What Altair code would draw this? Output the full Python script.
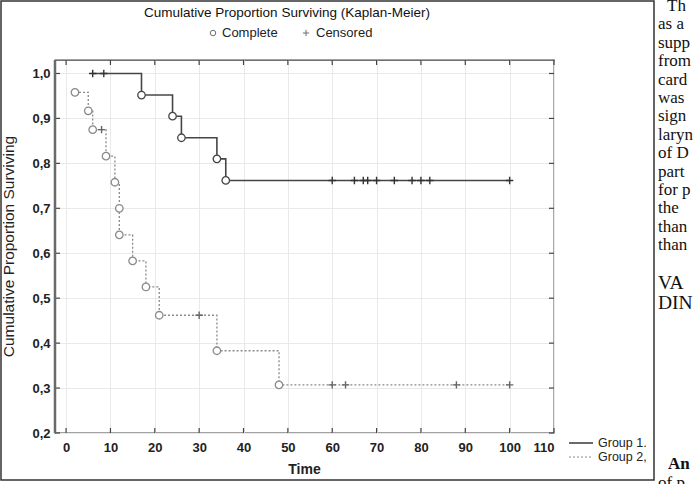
import altair as alt
import pandas as pd

# ---- Kaplan-Meier estimates -------------------------------------------------
# Group 1: step vertices (time, cumulative proportion surviving)
g1_time = [6, 17, 24, 26, 34, 36, 100]
g1_surv = [1.000, 0.952, 0.905, 0.857, 0.810, 0.762, 0.762]
# complete observations (events), group 1
g1_event_time = [17, 24, 26, 34, 36]
g1_event_surv = [0.952, 0.905, 0.857, 0.810, 0.762]
# censored observations, group 1
g1_cens_time = [6, 8.5, 60, 65, 67, 68, 70, 74, 78, 80, 82, 100]
g1_cens_surv = [1.0, 1.0, 0.762, 0.762, 0.762, 0.762, 0.762, 0.762, 0.762, 0.762, 0.762, 0.762]

# Group 2
g2_time = [2, 5, 6, 9, 11, 12, 12, 15, 18, 21, 34, 48, 100]
g2_surv = [0.958, 0.917, 0.875, 0.816, 0.758, 0.700, 0.641, 0.583, 0.525, 0.462, 0.383, 0.307, 0.307]
g2_event_time = [2, 5, 6, 9, 11, 12, 12, 15, 18, 21, 34, 48]
g2_event_surv = [0.958, 0.917, 0.875, 0.816, 0.758, 0.700, 0.641, 0.583, 0.525, 0.462, 0.383, 0.307]
g2_cens_time = [8, 30, 60, 63, 88, 100]
g2_cens_surv = [0.875, 0.462, 0.307, 0.307, 0.307, 0.307]

x_ticks = [0, 10, 20, 30, 40, 50, 60, 70, 80, 90, 100, 110]
y_ticks = [0.2, 0.3, 0.4, 0.5, 0.6, 0.7, 0.8, 0.9, 1.0]

title_text = "Cumulative Proportion Surviving (Kaplan-Meier)"
y_title = "Cumulative Proportion Surviving"
x_title = "Time"
group_labels = ["Group 1.", "Group 2,"]

# neighbouring column of the printed page
page_lines = ["Th", "as  a", "supp", "from", "card", "was", "sign", "laryn",
              "of D", "part", "for p", "the", "than", "than"]
page_heading = ["VA", "DIN"]
page_after = ["An", "of p"]

# ---- layout -------------------------------------------------------------
W, H = 499, 373
PAD = {"left": 55, "top": 60, "right": 697 - 55 - W, "bottom": 484 - 60 - H}
SANS = "Liberation Sans, Arial, sans-serif"
SERIF = "Liberation Serif, Times New Roman, serif"
C1 = "#454545"
C2 = "#8a8a8a"
GRID = "#e9e9e9"

xscale = alt.Scale(domain=[-2.5, 110], nice=False, zero=False)
yscale = alt.Scale(domain=[0.2, 1.03], nice=False, zero=False)

xaxis = alt.Axis(values=x_ticks, grid=True, gridColor=GRID, ticks=False, domain=False,
                 labelFont=SANS, labelFontSize=13, labelFontWeight="bold",
                 labelColor="#222", labelPadding=8, title=None)
yaxis = alt.Axis(values=y_ticks, grid=True, gridColor=GRID, ticks=False, domain=False,
                 labelFont=SANS, labelFontSize=13, labelFontWeight="bold",
                 labelColor="#222", labelPadding=5, title=None,
                 labelExpr="replace(format(datum.value, '.1f'), '.', ',')")

X = alt.X("t:Q", scale=xscale, axis=xaxis)
Y = alt.Y("s:Q", scale=yscale, axis=yaxis)

one = pd.DataFrame({"k": [0]})


def curve_layer(times, survs, color, width, dash):
    df = pd.DataFrame({"t": times, "s": survs, "o": list(range(len(times)))})
    return alt.Chart(df).mark_line(interpolate="step-after", color=color,
                                   strokeWidth=width, strokeDash=dash).encode(
        x=X, y=Y, order="o:Q")


def event_layer(times, survs, color):
    df = pd.DataFrame({"t": times, "s": survs})
    return alt.Chart(df).mark_point(shape="circle", size=56, filled=False, fill="white",
                                    fillOpacity=1, opacity=1, stroke=color,
                                    strokeWidth=1.3).encode(x=X, y=Y)


PLUS = "M-1,0L1,0M0,-1L0,1"


def censor_layer(times, survs, color):
    df = pd.DataFrame({"t": times, "s": survs})
    return alt.Chart(df).mark_point(shape=PLUS, size=55, filled=False, opacity=1,
                                    stroke=color, strokeWidth=1.4).encode(x=X, y=Y)


def text_at(txt, x, y, size=12, weight="normal", font=SANS, align="left",
            color="#222", angle=0):
    return alt.Chart(one).mark_text(text=txt, font=font, fontSize=size,
                                    fontWeight=weight, align=align,
                                    baseline="middle", color=color,
                                    angle=angle).encode(x=alt.value(x), y=alt.value(y))


# inward tick marks on all four sides of the frame
xt = pd.DataFrame({"t": x_ticks})
yt = pd.DataFrame({"s": y_ticks})
tick_style = dict(color="#444", strokeWidth=1.2)
ticks = [
    alt.Chart(xt).mark_rule(**tick_style).encode(x=X, y=alt.value(H), y2=alt.value(H - 5)),
    alt.Chart(xt).mark_rule(**tick_style).encode(x=X, y=alt.value(0), y2=alt.value(5)),
    alt.Chart(yt).mark_rule(**tick_style).encode(y=Y, x=alt.value(0), x2=alt.value(5)),
    alt.Chart(yt).mark_rule(**tick_style).encode(y=Y, x=alt.value(W), x2=alt.value(W - 5)),
]

left_spine = alt.Chart(one).mark_rule(color="#6a6a6a", strokeWidth=2.5).encode(
    x=alt.value(0), y=alt.value(0), y2=alt.value(H))

# outer border of the figure
border = alt.Chart(one).mark_rect(fillOpacity=0, stroke="#333", strokeWidth=1.5).encode(
    x=alt.value(-54), x2=alt.value(599), y=alt.value(-59), y2=alt.value(420))

# header legend: symbols for complete / censored observations
hdr_circle = alt.Chart(one).mark_point(shape="circle", size=30, filled=False,
                                       stroke="#333", strokeWidth=1).encode(
    x=alt.value(158), y=alt.value(-27))
hdr_plus = alt.Chart(one).mark_point(shape=PLUS, size=40, filled=False,
                                     stroke="#333", strokeWidth=1).encode(
    x=alt.value(251), y=alt.value(-27))

# group legend at the lower right
leg = [
    alt.Chart(one).mark_rule(color=C1, strokeWidth=1.6).encode(
        x=alt.value(514), x2=alt.value(538), y=alt.value(383)),
    alt.Chart(one).mark_rule(color=C2, strokeWidth=1.2, strokeDash=[2, 2]).encode(
        x=alt.value(514), x2=alt.value(538), y=alt.value(397)),
    text_at(group_labels[0], 543, 383, size=12.5),
    text_at(group_labels[1], 543, 397, size=12.5),
]

texts = [
    text_at(title_text, 232, -47, size=13.5, align="center", color="#111"),
    text_at("Complete", 167, -27, size=13),
    text_at("Censored", 261, -27, size=13),
    text_at(y_title, -46, H / 2, size=15.5, align="center", angle=270),
    text_at(x_title, W / 2, 410, size=14, weight="bold", align="center"),
]

page = []
for i, line in enumerate(page_lines):
    xpos = 612 if i == 0 else 603
    page.append(text_at(line, xpos, -54 + 18.4 * i, size=17, font=SERIF, color="#111"))
for i, line in enumerate(page_heading):
    page.append(text_at(line, 603, 223 + 20 * i, size=19.5, font=SERIF, color="#111"))
page.append(text_at(page_after[0], 613, 404, size=17, weight="bold", font=SERIF, color="#111"))
page.append(text_at(page_after[1], 603, 423, size=17, font=SERIF, color="#111"))

layers = (
    [curve_layer(g2_time, g2_surv, C2, 1.3, [2, 2]),
     curve_layer(g1_time, g1_surv, C1, 1.6, [1, 0]),
     event_layer(g2_event_time, g2_event_surv, C2),
     event_layer(g1_event_time, g1_event_surv, C1),
     censor_layer(g2_cens_time, g2_cens_surv, "#666"),
     censor_layer(g1_cens_time, g1_cens_surv, "#333")]
    + ticks + [left_spine, border, hdr_circle, hdr_plus] + leg + texts + page
)

chart = alt.layer(*layers).properties(
    width=W, height=H,
    autosize=alt.AutoSizeParams(type="none"),
    padding=PAD,
    background="white",
).configure_view(stroke="#444", strokeWidth=1.3)

chart.save("out.html", embed_options={"renderer": "svg", "actions": False})
